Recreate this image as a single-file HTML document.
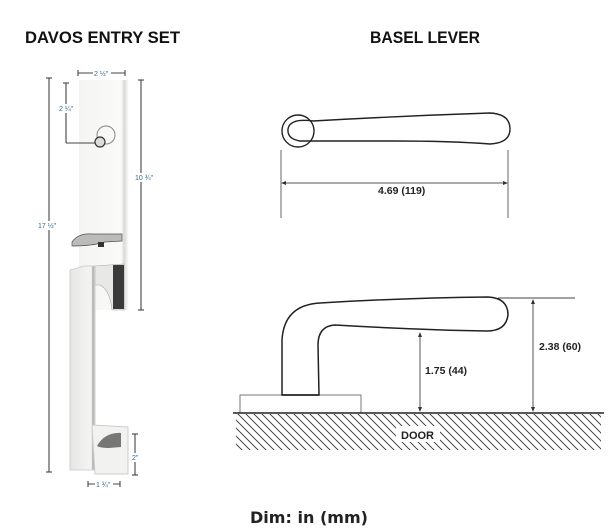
<!DOCTYPE html>
<html><head><meta charset="utf-8"><style>
html,body{margin:0;padding:0;background:#fff;}
svg{display:block;}
</style></head><body>
<svg width="613" height="531" viewBox="0 0 613 531" xmlns="http://www.w3.org/2000/svg">
<defs>
<linearGradient id="pl" x1="0" x2="1" y1="0" y2="0">
<stop offset="0" stop-color="#f4f4f2"/><stop offset="0.85" stop-color="#fafaf8"/><stop offset="0.9" stop-color="#d8d8d8"/><stop offset="1" stop-color="#ffffff"/>
</linearGradient>
<linearGradient id="gr" x1="0" x2="1" y1="0" y2="0">
<stop offset="0" stop-color="#e6e6e4"/><stop offset="0.85" stop-color="#f4f4f2"/><stop offset="0.92" stop-color="#aaa"/><stop offset="1" stop-color="#e0e0e0"/>
</linearGradient>
<pattern id="hatch" width="8" height="8" patternUnits="userSpaceOnUse">
<path d="M0,0 L8,8 M-4,4 L4,12 M4,-4 L12,4" stroke="#333" stroke-width="0.9"/>
</pattern>
</defs>
<g font-family="'Liberation Sans', sans-serif" font-weight="bold" fill="#111">
<text x="25" y="43" font-size="17" textLength="155" lengthAdjust="spacingAndGlyphs">DAVOS ENTRY SET</text>
<text x="370" y="43" font-size="17" textLength="110" lengthAdjust="spacingAndGlyphs">BASEL LEVER</text>
</g>
<text x="250" y="523" font-family="'DejaVu Sans', sans-serif" font-size="16" font-weight="bold" fill="#222" textLength="118" lengthAdjust="spacingAndGlyphs">Dim: in (mm)</text>

<!-- entry set -->
<rect x="79" y="80" width="50" height="230" fill="url(#pl)"/>
<circle cx="106" cy="135" r="9" fill="none" stroke="#888" stroke-width="1"/>
<circle cx="100" cy="142" r="5" fill="#ddd" stroke="#333" stroke-width="1.2"/>
<path d="M72,242 Q78,233 92,234 L122,234 L122,241 L105,242 Q92,246 72,246 Z" fill="#bbb" stroke="#555" stroke-width="0.7"/>
<rect x="98" y="242" width="6" height="5" fill="#333"/>
<path d="M95,266 L124,264 L124,310 L112,310 Q110,290 100,285 L95,285 Z" fill="#e8e8e6" stroke="#aaa" stroke-width="0.6"/>
<rect x="113" y="265" width="11" height="44" fill="#3a3a3a"/>
<path d="M70,270 L84,266 L95,266 L95,470 L70,470 Z" fill="url(#gr)" stroke="#c8c8c8" stroke-width="0.8"/>
<path d="M92,425 L128,427 L128,474 L95,474 Z" fill="#f2f2f0" stroke="#ccc"/>
<path d="M97,446 Q105,432 121,433 L121,447 L109,448 Q100,448 97,446 Z" fill="#777"/>
<g stroke="#444" stroke-width="1.1" fill="none">
<line x1="49" y1="78" x2="49" y2="472"/><line x1="46" y1="78" x2="52" y2="78"/><line x1="46" y1="472" x2="52" y2="472"/>
<line x1="141" y1="80" x2="141" y2="310"/><line x1="138" y1="80" x2="144" y2="80"/><line x1="138" y1="310" x2="144" y2="310"/>
<line x1="66" y1="83" x2="66" y2="143"/><line x1="66" y1="143" x2="95" y2="143"/><line x1="63" y1="83" x2="69" y2="83"/>
<line x1="78" y1="73" x2="125" y2="73"/><line x1="78" y1="70" x2="78" y2="76"/><line x1="125" y1="70" x2="125" y2="76"/>
<line x1="135" y1="434" x2="135" y2="475"/><line x1="132" y1="434" x2="138" y2="434"/><line x1="132" y1="475" x2="138" y2="475"/>
<line x1="88" y1="484" x2="120" y2="484"/><line x1="88" y1="481" x2="88" y2="487"/><line x1="120" y1="481" x2="120" y2="487"/>
</g>
<g font-family="'Liberation Sans', sans-serif" font-size="7" fill="#3a6a8a">
<rect x="93" y="69" width="18" height="8" fill="#fff"/><text x="94" y="76">2 ½"</text>
<rect x="58" y="104" width="18" height="9" fill="#fff"/><text x="59" y="111">2 ¼"</text>
<rect x="134" y="173" width="20" height="9" fill="#fff"/><text x="135" y="180">10 ¾"</text>
<rect x="37" y="221" width="22" height="9" fill="#fff"/><text x="38" y="228">17 ½"</text>
<rect x="131" y="453" width="9" height="9" fill="#fff"/><text x="132" y="460">2"</text>
<rect x="95" y="480" width="18" height="8" fill="#fff"/><text x="96" y="487">1 ¾"</text>
</g>

<!-- top lever -->
<g stroke="#222" stroke-width="1.4" fill="none">
<circle cx="298" cy="131" r="16"/>
<path d="M313,121 Q290,118 288,129 Q287,139 300,141 L313,141"/>
<path d="M313,121 Q400,116 490,113 Q510,114 510,129 Q510,143 490,144 Q450,141 395,141 Q350,141 313,141"/>
</g>
<g stroke="#555" stroke-width="0.9" fill="none">
<line x1="281" y1="150" x2="281" y2="218"/><line x1="508" y1="150" x2="508" y2="218"/>
<line x1="283" y1="183" x2="506" y2="183"/>
</g>
<path d="M281,183 l5,-2 v4 z M508,183 l-5,-2 v4 z" fill="#333"/>
<text x="378" y="194" font-family="'Liberation Sans', sans-serif" font-size="10.5" font-weight="bold" fill="#222">4.69 (119)</text>

<!-- side view -->
<rect x="240" y="395" width="121" height="18" fill="none" stroke="#777" stroke-width="1"/>
<rect x="236" y="414" width="365" height="36" fill="url(#hatch)"/>
<rect x="396" y="426" width="44" height="16" fill="#fff"/>
<text x="401" y="439" font-family="'Liberation Sans', sans-serif" font-size="11" font-weight="bold" fill="#222">DOOR</text>
<line x1="233" y1="413" x2="604" y2="413" stroke="#222" stroke-width="1.6"/>
<path d="M282,395 L282,340 Q284,305 320,303 Q400,298 488,297 Q508,298 508,315 Q506,331 487,331 Q420,330 335,325 Q318,326 318,345 L319,395 Z" fill="none" stroke="#222" stroke-width="1.5"/>
<line x1="282" y1="395" x2="319" y2="395" stroke="#222" stroke-width="1.6"/>
<g stroke="#444" stroke-width="0.9" fill="none">
<line x1="498" y1="298" x2="575" y2="298"/>
<line x1="533" y1="300" x2="533" y2="411"/>
<line x1="420" y1="333" x2="420" y2="411"/>
</g>
<path d="M533,299 l-2,5 h4 z M533,412 l-2,-5 h4 z M420,332 l-2,5 h4 z M420,412 l-2,-5 h4 z" fill="#333"/>
<g font-family="'Liberation Sans', sans-serif" font-size="10.5" font-weight="bold" fill="#222">
<text x="425" y="374">1.75 (44)</text>
<text x="539" y="350">2.38 (60)</text>
</g>
</svg>
</body></html>
